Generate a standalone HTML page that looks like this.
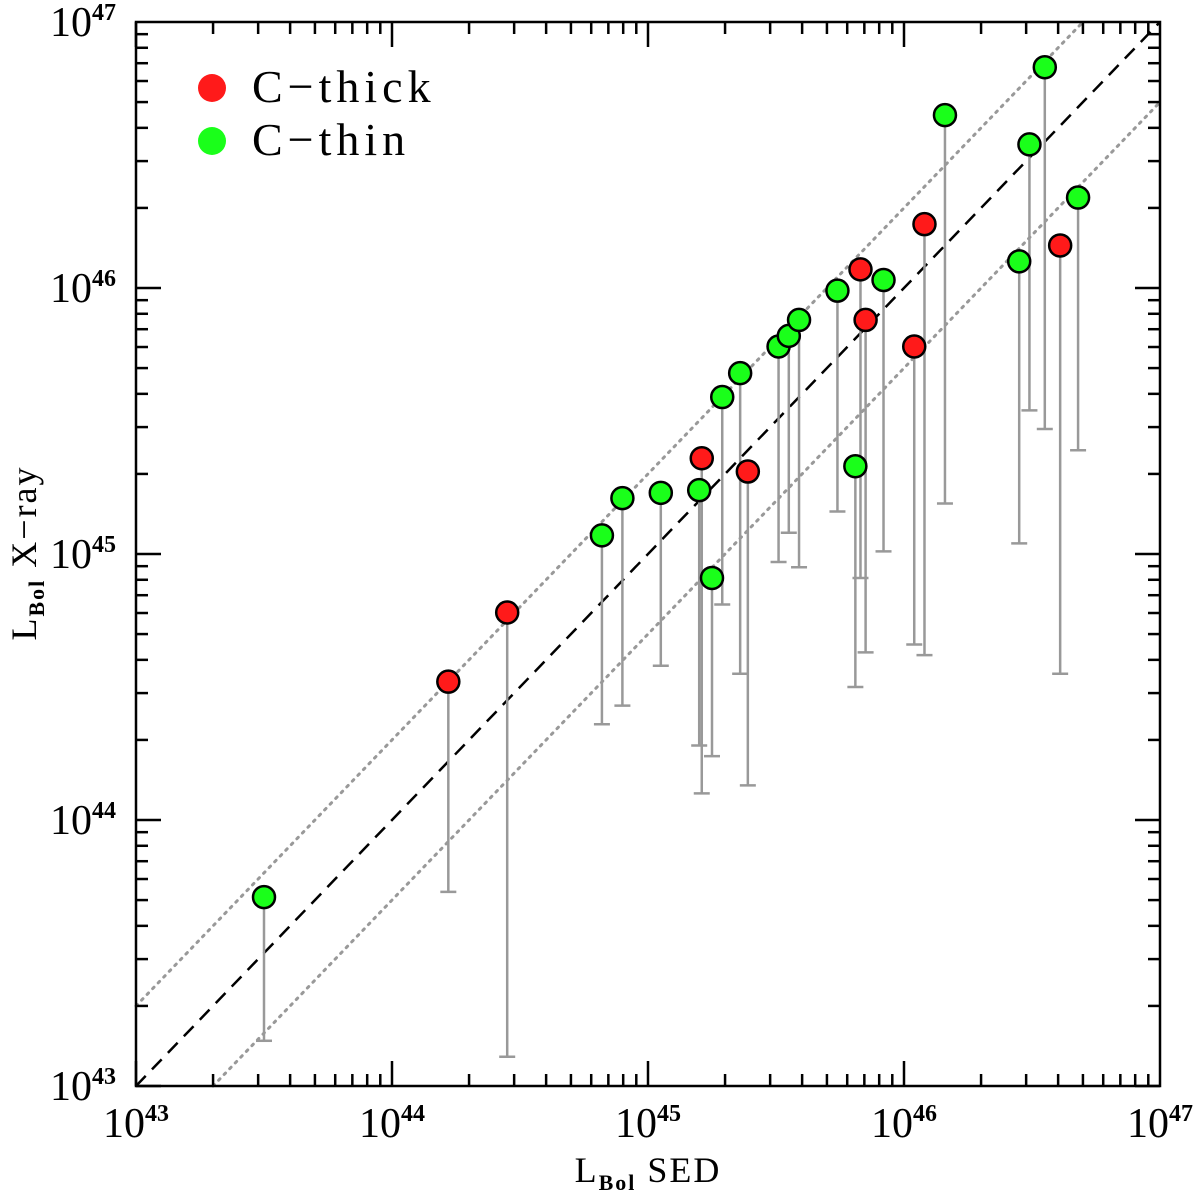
<!DOCTYPE html>
<html><head><meta charset="utf-8"><style>
body{margin:0;background:#fff}
svg{display:block}
text{font-family:"Liberation Serif",serif;fill:#000}
</style></head><body>
<svg id="chart" width="1200" height="1200" viewBox="0 0 1200 1200" xmlns="http://www.w3.org/2000/svg">
<g id="lines"></g>
<g id="errs"></g>
<g id="pts"></g>
<rect x="136" y="22" width="1024" height="1064" fill="none" stroke="#000" stroke-width="2.5"/>
<g id="ticks"></g>
<g>
<circle cx="212" cy="88" r="14" fill="#ff1a1a"/>
<text x="252" y="102" font-size="46" letter-spacing="5">C−thick</text>
<circle cx="212" cy="141" r="14" fill="#1aff1a"/>
<text x="252" y="155" font-size="46" letter-spacing="5">C−thin</text>
</g>
<text x="648" y="1182" text-anchor="middle" font-size="36" letter-spacing="2">L<tspan font-size="22" font-weight="bold" dy="8">Bol</tspan><tspan dy="-8"> SED</tspan></text>
<text transform="translate(36,553) rotate(-90)" text-anchor="middle" font-size="36" letter-spacing="2">L<tspan font-size="22" font-weight="bold" dy="8">Bol</tspan><tspan dy="-8"> X−ray</tspan></text>
</svg>
<script>
const xLog=[43.50,44.22,44.45,44.82,44.90,45.05,45.20,45.21,45.25,45.29,45.36,45.39,45.51,45.55,45.59,45.74,45.81,45.83,45.85,45.92,46.04,46.08,46.16,46.45,46.49,46.55,46.61,46.68];
const yLog=[43.71,44.52,44.78,45.07,45.21,45.23,45.24,45.36,44.91,45.59,45.68,45.31,45.78,45.82,45.88,45.99,45.33,46.07,45.88,46.03,45.78,46.24,46.65,46.10,46.54,46.83,46.16,46.34];
const yLow=[43.17,43.73,43.11,44.36,44.43,44.58,44.28,44.10,44.24,44.81,44.55,44.13,44.97,45.08,44.95,45.16,44.50,44.91,44.63,45.01,44.66,44.62,45.19,45.04,45.54,45.47,44.55,45.39];
const kind=["thin","thick","thick","thin","thin","thin","thin","thick","thin","thin","thin","thick","thin","thin","thin","thin","thin","thick","thick","thin","thick","thick","thin","thin","thin","thin","thick","thin"];
const decades=[43,44,45,46,47];
const NS="http://www.w3.org/2000/svg";
const X=v=>136+(v-43)*256, Y=v=>1086-(v-43)*266;
function mk(t,a,p){const e=document.createElementNS(NS,t);for(const k in a)e.setAttribute(k,a[k]);p.appendChild(e);return e;}
const lines=document.getElementById('lines');
let l=mk('line',{x1:X(43),y1:Y(43),x2:X(47),y2:Y(47),stroke:'#000','stroke-width':2.5,'stroke-dasharray':'14,9'},lines);


const o=Math.log10(2);
l=mk('line',{x1:X(43),y1:Y(43+o),x2:X(47-o),y2:Y(47),stroke:'#999','stroke-width':3,'stroke-dasharray':'2,6','stroke-linecap':'round'},lines);


l=mk('line',{x1:X(43+o),y1:Y(43),x2:X(47),y2:Y(47-o),stroke:'#999','stroke-width':3,'stroke-dasharray':'2,6','stroke-linecap':'round'},lines);


const errs=document.getElementById('errs'),pts=document.getElementById('pts');
for(let i=0;i<xLog.length;i++){
 const x=X(xLog[i]),y=Y(yLog[i]),yl=Y(yLow[i]);
 const g=mk('g',{},errs);
 
 
 mk('line',{x1:x,y1:y,x2:x,y2:yl,stroke:'#999','stroke-width':2.5},g);
 mk('line',{x1:x-8,y1:yl,x2:x+8,y2:yl,stroke:'#999','stroke-width':2.5},g);
 const c=mk('circle',{cx:x,cy:y,r:11,fill:kind[i]=='thick'?'#ff1a1a':'#1aff1a',stroke:'#000','stroke-width':2.5},pts);
 
 
}
const ticks=document.getElementById('ticks');
for(let d=43;d<47;d++){for(let m=1;m<10;m++){
 const v=d+Math.log10(m),len=m==1?25:12,x=X(v),y=Y(v);
 mk('line',{x1:x,y1:1086,x2:x,y2:1086-len,stroke:'#000','stroke-width':2.5},ticks);
 mk('line',{x1:x,y1:22,x2:x,y2:22+len,stroke:'#000','stroke-width':2.5},ticks);
 mk('line',{x1:136,y1:y,x2:136+len,y2:y,stroke:'#000','stroke-width':2.5},ticks);
 mk('line',{x1:1160,y1:y,x2:1160-len,y2:y,stroke:'#000','stroke-width':2.5},ticks);
}}
decades.forEach(d=>{
 const tx=mk('text',{x:X(d),y:1137,'text-anchor':'middle','font-size':42},ticks);
 tx.innerHTML='10<tspan font-size="24" font-weight="bold" dy="-16">'+d+'</tspan>';
 
 
 const ty=mk('text',{x:116,y:Y(d)+14,'text-anchor':'end','font-size':42},ticks);
 ty.innerHTML='10<tspan font-size="24" font-weight="bold" dy="-16">'+d+'</tspan>';
 
 
});
</script>
</body></html>
